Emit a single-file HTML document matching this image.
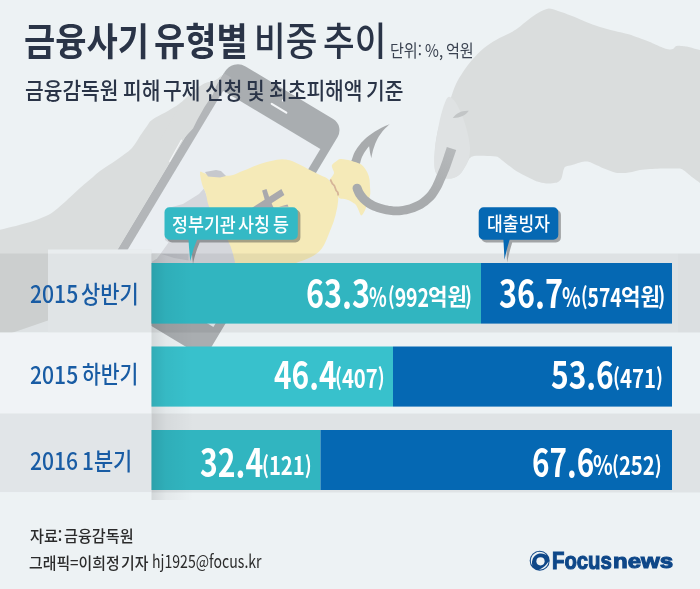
<!DOCTYPE html>
<html lang="ko">
<head>
<meta charset="utf-8">
<title>금융사기 유형별 비중 추이</title>
<style>
html,body{margin:0;padding:0;}
body{width:700px;height:589px;overflow:hidden;background:#edf2f4;font-family:"Liberation Sans","Noto Sans CJK KR",sans-serif;}
#wrap{position:relative;width:700px;height:589px;overflow:hidden;background:#edf2f4;}
#art{position:absolute;left:0;top:0;width:700px;height:589px;}
.t{position:absolute;white-space:nowrap;line-height:1;margin:0;padding:0;transform-origin:0 0;}
</style>
</head>
<body>
<div id="wrap">
<svg id="art" width="700" height="589" viewBox="0 0 700 589">
<defs><linearGradient id="hk" gradientUnits="userSpaceOnUse" x1="430" y1="200" x2="452" y2="148"><stop offset="0" stop-color="#a8abad"/><stop offset="1" stop-color="#b6b9bb"/></linearGradient><linearGradient id="shL" x1="0" x2="1" y1="0" y2="0"><stop offset="0" stop-color="#000" stop-opacity="0.11"/><stop offset="0.35" stop-color="#000" stop-opacity="0.04"/><stop offset="1" stop-color="#000" stop-opacity="0"/></linearGradient></defs>
<rect width="700" height="589" fill="#edf2f4"/>
<path fill="#dadddd" d="M548.6,8.6 L550.9,8.7 L553.1,9.2 L555.4,10.1 L558.0,11.0 L561.1,12.0 L564.4,13.1 L567.9,14.4 L571.4,15.7 L574.8,17.1 L578.1,18.5 L581.5,20.0 L585.0,21.5 L588.7,22.9 L592.5,24.4 L596.3,25.8 L600.0,27.0 L603.6,28.1 L607.0,29.0 L610.5,29.9 L614.0,30.8 L617.7,31.7 L621.6,32.6 L625.3,33.5 L628.6,34.3 L631.3,35.1 L633.5,35.9 L635.7,36.7 L638.0,37.5 L640.6,38.4 L643.4,39.4 L646.1,40.4 L648.6,41.4 L650.7,42.3 L652.5,43.2 L654.3,44.0 L656.0,44.8 L657.8,45.6 L659.6,46.4 L661.3,47.1 L662.9,47.7 L664.3,48.2 L665.6,48.7 L666.8,49.1 L668.0,49.3 L669.3,49.4 L670.6,49.4 L671.8,49.3 L672.9,49.0 L673.7,48.5 L674.3,47.8 L674.9,47.1 L675.5,46.5 L676.2,46.1 L676.9,45.9 L677.7,45.8 L678.6,45.7 L679.7,45.7 L680.9,45.9 L682.2,46.0 L683.5,46.2 L684.6,46.3 L685.6,46.4 L686.9,46.6 L688.6,47.0 L691.0,47.6 L693.9,48.4 L697.0,49.3 L700.0,50.0 L703.2,47.3 L706.7,42.4 L709.8,41.8 L712.0,52.0 L713.1,80.8 L713.5,122.7 L713.1,164.2 L712.0,192.0 L709.7,200.1 L706.4,196.5 L702.9,188.4 L700.0,183.0 L698.1,181.6 L696.6,180.5 L695.3,179.5 L694.0,178.5 L692.6,177.4 L691.2,176.4 L689.9,175.3 L688.6,174.3 L687.4,173.3 L686.2,172.3 L685.1,171.3 L684.0,170.5 L683.1,169.9 L682.3,169.3 L681.4,168.9 L680.0,168.6 L677.9,168.4 L675.4,168.4 L672.6,168.4 L670.0,168.4 L667.5,168.4 L665.0,168.5 L662.5,168.5 L660.0,168.6 L657.5,168.7 L655.0,168.8 L652.5,168.9 L650.0,169.0 L647.5,169.2 L644.9,169.4 L642.4,169.7 L640.0,170.0 L637.8,170.5 L635.8,171.0 L633.8,171.5 L632.0,172.0 L630.3,172.3 L628.7,172.6 L627.2,172.8 L625.7,173.0 L624.2,173.1 L622.8,173.1 L621.4,173.1 L620.0,173.0 L618.6,172.9 L617.3,172.9 L615.8,172.7 L614.0,172.3 L611.8,171.6 L609.2,170.6 L606.6,169.6 L604.0,168.5 L601.4,167.4 L598.7,166.1 L596.1,165.0 L594.0,164.0 L592.5,163.3 L591.4,162.8 L590.4,162.3 L589.5,162.0 L588.5,161.7 L587.7,161.5 L586.8,161.4 L585.7,161.4 L584.5,161.5 L583.1,161.8 L581.6,162.1 L580.0,162.5 L578.1,163.0 L576.0,163.7 L573.9,164.4 L572.0,165.0 L570.3,165.4 L568.6,165.8 L567.2,166.1 L566.0,166.5 L565.3,166.8 L564.9,167.1 L564.6,167.4 L564.3,168.0 L564.0,168.8 L563.6,169.7 L563.3,170.8 L563.0,172.0 L562.7,173.5 L562.3,175.3 L561.9,177.1 L561.4,178.6 L560.7,179.7 L559.8,180.6 L558.9,181.4 L558.0,182.0 L557.1,182.4 L556.3,182.7 L555.3,182.8 L554.0,183.0 L552.3,183.2 L550.3,183.4 L548.2,183.5 L546.0,183.4 L543.8,183.1 L541.6,182.7 L539.3,182.1 L537.0,181.4 L534.6,180.5 L532.1,179.3 L529.5,178.1 L527.0,176.8 L524.5,175.5 L521.9,174.2 L519.4,172.8 L517.0,171.4 L514.7,169.9 L512.4,168.3 L510.2,166.6 L508.0,165.0 L505.8,163.3 L503.7,161.5 L501.7,159.9 L500.0,158.6 L498.9,157.7 L498.2,157.2 L497.5,156.8 L496.0,156.5 L493.5,156.2 L490.4,156.0 L487.0,155.9 L484.0,155.8 L481.2,155.7 L478.5,155.7 L476.0,155.8 L474.0,156.0 L472.5,156.4 L471.5,156.8 L470.7,157.4 L470.0,158.0 L469.4,158.6 L469.0,159.2 L468.6,159.9 L468.0,161.0 L467.2,162.6 L466.2,164.5 L465.1,166.6 L464.0,168.5 L462.9,170.3 L461.8,172.0 L460.5,173.6 L459.0,175.0 L457.2,176.2 L455.2,177.2 L453.1,178.0 L451.0,178.5 L449.0,178.6 L446.9,178.4 L444.9,178.0 L443.0,177.5 L441.3,177.0 L439.7,176.5 L438.2,175.7 L437.0,174.5 L436.1,173.0 L435.3,171.2 L434.8,168.9 L434.5,166.0 L434.4,162.1 L434.4,157.5 L434.7,152.6 L435.0,148.0 L435.5,143.7 L436.1,139.5 L436.8,135.5 L437.5,132.0 L438.2,128.9 L438.9,126.3 L439.7,123.9 L440.5,121.8 L441.3,120.3 L442.1,119.3 L442.9,118.1 L444.0,116.0 L445.3,112.7 L446.8,108.6 L448.4,104.2 L450.0,100.0 L451.5,95.9 L452.9,91.8 L454.4,87.7 L456.0,84.0 L457.6,80.7 L459.3,77.8 L461.1,74.9 L463.0,72.0 L465.0,69.0 L467.2,66.0 L469.5,63.0 L472.0,60.0 L474.8,56.9 L477.8,53.8 L480.9,50.7 L484.0,48.0 L487.0,45.7 L489.9,43.7 L492.9,41.8 L496.0,40.0 L499.5,38.1 L503.2,36.3 L506.9,34.6 L510.0,33.0 L512.4,31.7 L514.2,30.6 L516.0,29.4 L518.0,28.0 L520.4,26.2 L522.9,24.1 L525.5,22.0 L528.0,20.0 L530.5,18.1 L533.0,16.3 L535.5,14.5 L538.0,13.0 L540.6,11.6 L543.3,10.2 L546.0,9.2 Z"/>
<path fill="#dfe2e3" d="M446.0,100.0 L444.8,102.9 L443.5,106.6 L442.2,110.8 L441.0,115.0 L440.0,119.1 L439.1,123.4 L438.3,127.8 L437.5,132.0 L436.8,136.0 L436.1,139.9 L435.5,143.9 L435.0,148.0 L434.7,152.6 L434.4,157.5 L434.4,162.1 L434.5,166.0 L434.8,168.9 L435.3,171.2 L436.1,173.0 L437.0,174.5 L438.2,175.7 L439.7,176.5 L441.3,177.0 L443.0,177.5 L444.9,178.0 L446.9,178.4 L449.0,178.6 L451.0,178.5 L453.1,178.0 L455.2,177.2 L457.2,176.2 L459.0,175.0 L460.5,173.6 L461.8,172.0 L462.9,170.3 L464.0,168.5 L465.1,166.8 L466.2,165.0 L467.2,163.1 L468.0,161.0 L468.7,158.6 L469.4,156.0 L469.8,153.1 L470.0,150.0 L469.9,146.6 L469.4,142.9 L468.8,139.0 L468.0,135.0 L467.0,130.8 L465.8,126.5 L464.5,122.2 L463.0,118.0 L461.4,113.9 L459.6,109.8 L457.7,106.1 L456.0,103.0 L454.4,100.7 L452.8,98.9 L451.3,97.7 L450.0,97.0 L448.9,96.8 L447.9,97.2 L447.0,98.2 Z"/>
<path fill="#c2c5c6" d="M452.8,118 C456,113 462.5,110.2 468.8,110.8 C466,115.2 459.5,118.2 452.8,118 Z"/>
<path fill="#dadddd" d="M226.0,74.0 L224.7,74.4 L223.4,74.9 L222.0,75.5 L220.5,76.6 L219.0,77.8 L217.5,79.0 L216.1,79.9 L214.6,80.7 L212.9,81.4 L210.7,81.9 L208.2,82.2 L205.7,82.9 L203.4,84.0 L201.1,85.4 L198.6,87.1 L195.7,89.3 L192.7,91.9 L190.0,94.3 L187.8,96.3 L185.9,98.1 L184.0,99.8 L182.2,101.4 L180.5,102.8 L178.6,104.3 L176.2,105.9 L173.5,107.5 L171.0,109.0 L168.7,110.4 L166.5,111.7 L164.3,112.9 L162.1,114.1 L159.9,115.2 L158.0,116.2 L156.5,117.0 L155.2,117.8 L154.0,118.6 L152.6,119.5 L151.3,120.5 L150.0,121.6 L149.1,122.8 L148.3,124.1 L147.0,126.0 L145.0,128.8 L142.6,132.3 L140.0,136.0 L137.6,139.9 L135.0,144.1 L132.0,148.0 L128.6,151.2 L124.7,154.1 L120.0,157.5 L113.6,161.9 L106.2,166.7 L100.0,171.0 L95.9,174.2 L93.0,176.9 L90.0,179.5 L86.7,182.3 L83.4,185.0 L80.0,188.0 L76.2,191.5 L72.2,195.2 L68.6,198.6 L65.5,201.5 L62.6,204.0 L60.0,206.3 L57.5,208.4 L55.3,210.3 L53.0,212.0 L50.9,213.4 L48.7,214.7 L46.0,216.0 L42.4,217.6 L38.3,219.2 L34.0,220.8 L29.4,222.2 L24.6,223.6 L20.0,224.8 L15.9,225.9 L12.1,226.8 L8.0,227.8 L3.5,228.9 L-1.3,229.9 L-6.0,231.0 L-6,339 L48,320.6 L130,292 L222,140 Z"/>
<g transform="translate(232.7,58.7) rotate(31)"><path d="M15,0 H117.2 A13,13 0 0 1 130.2,13 V265 A6,6 0 0 1 124.2,271 H6 A6,6 0 0 1 0,265 V15 A15,15 0 0 1 15,0 Z" fill="#a9adb0"/><path d="M0,17 H8.3 V271 H6 A6,6 0 0 1 0,265 Z" fill="#b3b6b9"/><rect x="8.3" y="32.3" width="113.4" height="207.7" fill="#eaeef2"/><rect x="55.6" y="17.5" width="19.2" height="2.2" rx="1.1" fill="#f4f6f8"/><circle cx="64.7" cy="10" r="1.2" fill="#f4f6f8"/></g>
<path fill="#dadddd" d="M205.7,82.9 L212.9,81.4 L217.5,79 L222,75.5 L217.3,83 L213,94.3 L204.5,107.1 L197.2,120 L193,128.6 L184.3,137.9 L181.2,141.3 L176,146 L160,140 L180,105 L195,90 Z"/>
<path d="M181.7,139.8 L169.4,161.8" stroke="#f6f8fa" stroke-width="1.1" fill="none"/>
<path fill="#d5d7dc" d="M204,188.5 L199,194 L183,204 L170,207.5 L165,210 L165,240 L168.6,242.6 L160.7,253.6 L151.5,253.6 L151.5,264 L240,264 L232,240 L210,205 Z"/>
<path fill="#edf2f4" d="M151.5,253.6 L160.7,253.6 L157,258.5 L151.5,262 Z"/>
<path fill="#c4c6cc" d="M160.7,253.7 L188.5,253.7 L188.5,260.5 L174,258 Z"/>
<path fill="#a8abad" d="M350.5,162.0 L350.8,161.5 L351.1,161.0 L351.5,160.4 L351.9,159.5 L352.3,158.2 L352.8,156.7 L353.4,155.0 L354.1,153.3 L355.0,151.6 L356.1,149.8 L357.2,148.0 L358.5,146.2 L359.9,144.4 L361.4,142.6 L363.0,140.9 L364.7,139.2 L366.6,137.6 L368.5,136.0 L370.6,134.5 L372.7,133.0 L374.9,131.6 L377.1,130.2 L379.3,128.9 L381.5,127.7 L383.6,126.7 L385.7,125.8 L387.8,124.9 L389.9,124.0 L389.9,124.0 L388.4,125.3 L387.0,126.7 L385.5,128.0 L384.1,129.5 L382.7,131.1 L381.3,132.9 L380.0,134.7 L378.8,136.5 L377.8,138.2 L376.9,140.0 L376.1,141.8 L375.3,143.6 L374.6,145.5 L373.9,147.6 L373.2,149.6 L372.7,151.5 L372.3,153.3 L371.9,154.9 L371.6,156.6 L371.3,158.2 L370.0,152.4 L369.1,146.2 L368.2,147.3 L367.4,148.3 L366.5,149.5 L365.6,150.7 L364.7,152.1 L363.8,153.6 L362.9,155.2 L362.1,156.8 L361.4,158.6 L360.8,160.5 L360.3,162.4 L359.9,163.9 L359.6,165.0 L359.4,165.7 L359.2,166.3 L359.0,167.0 Z"/>
<path fill="#f5eab8" d="M200.0,172.0 L200.9,171.5 L202.6,172.5 L205.0,173.5 L208.3,174.2 L212.2,174.9 L216.0,175.5 L219.5,175.8 L222.9,175.8 L226.0,175.8 L228.6,175.7 L230.8,175.5 L233.0,175.0 L235.2,174.2 L237.4,173.2 L240.0,172.0 L243.1,170.7 L246.6,169.4 L250.0,168.0 L253.3,166.6 L256.7,165.2 L260.0,164.0 L263.3,162.9 L266.7,162.0 L270.0,161.2 L273.5,160.5 L277.0,159.8 L280.0,159.4 L282.3,159.3 L284.1,159.4 L286.0,159.6 L287.9,159.9 L289.8,160.3 L292.0,161.0 L294.8,162.2 L297.9,163.7 L301.0,165.3 L304.0,166.8 L307.0,168.4 L310.0,170.0 L313.0,171.5 L316.0,173.0 L319.0,174.5 L322.1,175.9 L325.3,177.2 L328.0,179.0 L330.1,181.4 L331.9,184.1 L333.5,187.0 L335.3,189.9 L336.9,193.0 L338.0,196.0 L338.3,199.0 L338.0,202.1 L337.6,205.0 L337.2,207.7 L336.6,210.3 L336.0,213.0 L335.3,215.9 L334.4,219.0 L333.5,222.0 L332.4,225.1 L331.2,228.1 L330.0,231.0 L329.0,233.6 L328.0,236.1 L327.0,238.5 L326.0,240.8 L325.0,243.0 L324.0,245.0 L322.9,246.8 L321.8,248.5 L320.5,250.0 L319.2,251.4 L317.7,252.7 L316.0,254.0 L313.9,255.4 L311.6,256.7 L309.0,258.0 L306.2,259.2 L303.1,260.4 L300.0,261.5 L296.7,262.7 L293.4,263.9 L290.0,265.0 L287.9,266.1 L285.8,267.2 L280.0,268.0 L266.6,268.4 L249.5,268.6 L237.0,268.0 L233.3,266.7 L234.2,264.7 L235.0,262.0 L234.1,258.4 L233.0,254.1 L231.8,250.0 L230.6,246.6 L229.3,243.4 L227.6,239.7 L225.3,235.2 L222.5,230.3 L219.5,225.0 L215.9,219.1 L212.1,212.8 L209.1,207.0 L207.6,202.2 L206.8,197.9 L206.0,194.0 L204.7,190.5 L203.2,187.4 L202.0,184.0 L200.9,179.6 L200.1,175.1 Z"/>
<path fill="#f5eab8" d="M332.0,165.0 L333.0,163.8 L334.5,162.6 L336.0,161.5 L337.3,160.5 L338.6,159.6 L340.0,159.0 L341.6,159.0 L343.3,159.3 L345.0,159.6 L346.6,159.8 L348.3,160.1 L350.0,160.5 L352.0,161.0 L354.0,161.7 L356.0,162.3 L357.8,162.9 L359.4,163.5 L361.0,164.3 L362.4,165.5 L363.8,166.9 L365.0,168.5 L366.1,170.2 L367.1,172.1 L368.0,174.0 L368.7,175.9 L369.2,177.9 L369.6,180.0 L369.8,182.3 L369.9,184.7 L370.0,187.0 L370.2,189.2 L370.3,191.4 L370.3,193.5 L370.0,195.4 L369.5,197.2 L369.0,199.0 L368.4,200.7 L367.7,202.4 L367.0,204.0 L366.5,205.7 L366.0,207.4 L365.5,209.0 L364.9,210.5 L364.2,211.8 L363.5,213.0 L362.7,214.2 L361.9,215.3 L361.0,215.5 L360.2,214.2 L359.3,212.1 L358.5,210.0 L357.7,208.2 L356.9,206.5 L356.0,205.0 L354.8,203.8 L353.4,202.9 L352.0,202.0 L350.7,201.2 L349.4,200.6 L348.0,200.0 L346.4,199.5 L344.6,199.1 L343.0,198.8 L341.5,198.7 L340.1,198.6 L339.0,198.0 L338.2,196.7 L337.7,194.9 L337.0,193.0 L335.9,190.9 L334.7,188.7 L333.5,186.5 L332.1,184.2 L330.7,182.0 L330.0,180.0 L330.4,178.5 L331.5,177.2 L332.5,176.0 L333.2,174.8 L333.8,173.7 L334.0,172.5 L333.7,171.2 L333.0,169.8 L332.5,168.5 L332.1,167.3 L331.8,166.1 Z"/>
<path d="M330.3,179.5 L332.3,183.6 L334.3,185.6 L335.3,188.3 L336.1,190.5 L337.8,192.3 L338.3,195.5" stroke="#d6b597" stroke-width="1.8" fill="none" stroke-linejoin="round"/>
<g fill="#a9a9ad"><path d="M262.1,190.4 L266.5,188.9 L271.5,204 L266.5,206 Z"/><path d="M281.4,188.9 L284.4,195 L271.5,203.2 L274,208.5 L250,212 L252.5,207.5 Z"/><path d="M279,206.8 L287.5,204.6 L288.5,206.8 Z"/></g>
<path fill="#c6c8cd" d="M205,172 L216,170 L221,171 L226,176 L220,177.6 L208,176.4 Z"/>
<path fill="url(#hk)" d="M352.9,190.1 L353.3,191.2 L353.8,192.3 L354.3,193.5 L355.0,195.0 L355.8,196.4 L356.8,197.8 L357.8,199.2 L359.0,200.6 L360.3,202.0 L361.7,203.3 L363.1,204.6 L364.7,205.8 L366.3,206.9 L368.0,208.0 L369.7,208.9 L371.3,209.8 L373.0,210.5 L374.6,211.1 L376.3,211.7 L378.0,212.2 L379.8,212.8 L381.8,213.3 L383.8,213.8 L385.8,214.2 L387.8,214.5 L389.5,214.8 L391.3,215.1 L393.1,215.2 L395.1,215.3 L397.2,215.3 L399.4,215.2 L401.7,215.0 L404.2,214.6 L406.8,214.2 L409.4,213.5 L412.0,212.8 L414.7,211.9 L417.5,210.8 L420.3,209.6 L422.9,208.2 L425.3,206.6 L427.6,204.9 L429.8,203.1 L431.8,201.3 L433.7,199.4 L435.4,197.4 L436.9,195.3 L438.2,193.3 L439.4,191.3 L440.6,189.3 L441.7,187.2 L442.7,185.1 L443.6,183.1 L444.4,181.1 L445.3,179.2 L446.1,177.2 L447.0,175.3 L447.8,173.3 L448.7,171.3 L449.5,169.2 L450.3,167.1 L451.0,165.1 L451.7,163.0 L452.4,161.0 L453.1,159.1 L453.7,157.2 L454.4,155.3 L455.0,153.5 L455.6,151.7 L456.2,149.9 L446.8,146.9 L446.3,148.7 L445.7,150.5 L445.1,152.3 L444.5,154.1 L443.9,155.9 L443.2,157.9 L442.6,159.9 L441.9,161.9 L441.2,163.8 L440.5,165.8 L439.8,167.7 L439.0,169.6 L438.2,171.5 L437.4,173.5 L436.5,175.4 L435.7,177.4 L434.9,179.4 L434.1,181.3 L433.3,183.1 L432.4,184.9 L431.4,186.7 L430.4,188.4 L429.3,190.1 L428.2,191.7 L426.9,193.2 L425.4,194.8 L423.8,196.3 L422.0,197.8 L420.2,199.2 L418.3,200.4 L416.3,201.5 L414.0,202.6 L411.7,203.5 L409.3,204.4 L407.0,205.1 L404.9,205.6 L402.8,205.9 L400.8,206.2 L398.7,206.4 L396.8,206.5 L395.2,206.5 L393.7,206.5 L392.3,206.3 L390.9,206.1 L389.2,205.9 L387.5,205.6 L385.8,205.2 L384.0,204.7 L382.2,204.3 L380.6,203.8 L379.1,203.3 L377.7,202.8 L376.4,202.3 L375.2,201.7 L373.9,201.1 L372.7,200.3 L371.3,199.5 L370.0,198.5 L368.8,197.6 L367.7,196.7 L366.8,195.7 L365.9,194.7 L365.0,193.6 L364.2,192.6 L363.6,191.6 L363.1,190.7 L362.7,189.9 L362.3,188.9 L361.8,187.7 L361.3,186.5 L360.3,185.0 L358.8,184.0 L357.1,183.7 L355.3,184.1 L353.8,185.1 L352.8,186.6 L352.5,188.3 Z"/>
<rect x="0" y="253.5" width="700" height="79" fill="#000" fill-opacity="0.062"/>
<rect x="151.5" y="413.5" width="548.5" height="79" fill="#dfe3e5"/>
<rect x="678" y="253.5" width="22" height="79" fill="#000" fill-opacity="0.012"/>
<rect x="48" y="249.6" width="103.5" height="83" fill="#e0e4e6"/>
<rect x="48" y="249.6" width="103.5" height="4" fill="#e9edef"/>
<rect x="0" y="332.5" width="151.5" height="81" fill="#f0f3f6"/>
<rect x="0" y="413.5" width="151.5" height="78.7" fill="#e1e5e8"/>
<rect x="0" y="492.2" width="151.5" height="96.8" fill="#edf2f4"/>
<rect x="151.5" y="253.5" width="42" height="246.5" fill="url(#shL)"/>
<rect x="151.5" y="263" width="329.5" height="60.6" fill="#31b5c0"/>
<rect x="481" y="263" width="191" height="60.6" fill="#0568b3"/>
<rect x="151.5" y="263" width="40" height="60.6" fill="url(#shL)"/>
<rect x="151.5" y="346.5" width="241.5" height="60.1" fill="#38c1cc"/>
<rect x="393" y="346.5" width="279" height="60.1" fill="#0568b3"/>
<rect x="151.5" y="346.5" width="40" height="60.1" fill="url(#shL)"/>
<rect x="151.5" y="430" width="169.0" height="60" fill="#31b5c0"/>
<rect x="320.5" y="430" width="351.5" height="60" fill="#0568b3"/>
<rect x="151.5" y="430" width="40" height="60" fill="url(#shL)"/>
<path fill="#3a3a3a" fill-opacity="0.42" transform="translate(2.6,2.6)" d="M169.5,207.2 H292.8 a5,5 0 0 1 5,5 V234.8 a5,5 0 0 1 -5,5 H197.1 Q192.7,249.6 190.4,261.3 Q189.1,250.6 188.5,239.8 H169.5 a5,5 0 0 1 -5,-5 V212.2 a5,5 0 0 1 5,-5 Z"/>
<path fill="#34b9c5" d="M169.5,207.2 H292.8 a5,5 0 0 1 5,5 V234.8 a5,5 0 0 1 -5,5 H197.1 Q192.7,249.6 190.4,261.3 Q189.1,250.6 188.5,239.8 H169.5 a5,5 0 0 1 -5,-5 V212.2 a5,5 0 0 1 5,-5 Z"/>
<path fill="#3a3a3a" fill-opacity="0.42" transform="translate(2.6,2.6)" d="M483.7,207.2 H553.3 a5,5 0 0 1 5,5 V234.8 a5,5 0 0 1 -5,5 H509.6 Q506.8,248.8 504.5,259.8 Q504.0,249.8 503.4,239.8 H483.7 a5,5 0 0 1 -5,-5 V212.2 a5,5 0 0 1 5,-5 Z"/>
<path fill="#0568b3" d="M483.7,207.2 H553.3 a5,5 0 0 1 5,5 V234.8 a5,5 0 0 1 -5,5 H509.6 Q506.8,248.8 504.5,259.8 Q504.0,249.8 503.4,239.8 H483.7 a5,5 0 0 1 -5,-5 V212.2 a5,5 0 0 1 5,-5 Z"/>
<g id="logomark"><circle cx="539.7" cy="560.7" r="10" fill="#0e4788"/><circle cx="540.5" cy="561.3" r="4.1" fill="#edf2f4"/><path d="M532.4,565.8 L531.4,563.9 L530.9,561.9 L530.8,559.8 L531.3,557.7 L532.2,555.8 L533.6,554.2 L535.3,553.0 L537.2,552.1 L539.3,551.8 L541.4,552.0 L543.4,552.6 L545.2,553.7 L546.7,555.2 L544.8,554.2 L543.0,553.7 L541.1,553.5 L539.4,553.6 L537.8,554.1 L536.3,554.8 L535.0,555.7 L533.9,556.9 L533.0,558.3 L532.4,559.9 L532.0,561.7 L532.0,563.7 Z" fill="#edf2f4"/><path d="M548.6,561.5 L548.3,563.0 L547.8,564.5 L547.0,565.8 L546.0,567.0 L544.8,568.0 L543.5,568.8 L542.0,569.3 L540.5,569.6 L538.9,569.6 L540.4,568.9 L541.7,568.2 L542.9,567.5 L543.9,566.7 L544.9,565.9 L545.8,565.0 L546.7,564.0 L547.6,562.8 Z" fill="#edf2f4"/></g>
</svg>
<div class="t" id="title1_0" style="left:23.74px;top:19.83px;font-family:'Noto Sans CJK KR','NanumGothic',sans-serif;font-weight:700;font-size:37.78px;color:#2a3447;transform:scale(0.8993,1.0000);">금융사기</div>
<div class="t" id="title1_1" style="left:153.50px;top:19.83px;font-family:'Noto Sans CJK KR','NanumGothic',sans-serif;font-weight:700;font-size:37.78px;color:#2a3447;transform:scale(0.8993,1.0000);">유형별</div>
<div class="t" id="title2_0" style="left:253.90px;top:19.90px;font-family:'Noto Sans CJK KR','NanumGothic',sans-serif;font-weight:500;font-size:38.28px;color:#2a3447;transform:scale(0.8994,1.0000);">비중</div>
<div class="t" id="title2_1" style="left:322.61px;top:19.90px;font-family:'Noto Sans CJK KR','NanumGothic',sans-serif;font-weight:500;font-size:38.28px;color:#2a3447;transform:scale(0.8994,1.0000);">추이</div>
<div class="t" id="unit_0" style="left:389.98px;top:41.52px;font-family:'Noto Sans CJK KR','NanumGothic',sans-serif;font-weight:400;font-size:16.70px;color:#3a4250;transform:scale(0.9032,1.0000);">단위:</div>
<div class="t" id="unit_1" style="left:424.60px;top:41.52px;font-family:'Noto Sans CJK KR','NanumGothic',sans-serif;font-weight:400;font-size:16.70px;color:#3a4250;transform:scale(0.9032,1.0000);">%,</div>
<div class="t" id="unit_2" style="left:445.76px;top:41.52px;font-family:'Noto Sans CJK KR','NanumGothic',sans-serif;font-weight:400;font-size:16.70px;color:#3a4250;transform:scale(0.9032,1.0000);">억원</div>
<div class="t" id="sub_0" style="left:24.55px;top:77.56px;font-family:'Noto Sans CJK KR','NanumGothic',sans-serif;font-weight:500;font-size:23.27px;color:#2a3447;transform:scale(0.8737,1.0000);">금융감독원</div>
<div class="t" id="sub_1" style="left:122.95px;top:77.56px;font-family:'Noto Sans CJK KR','NanumGothic',sans-serif;font-weight:500;font-size:23.27px;color:#2a3447;transform:scale(0.8737,1.0000);">피해</div>
<div class="t" id="sub_2" style="left:163.05px;top:77.56px;font-family:'Noto Sans CJK KR','NanumGothic',sans-serif;font-weight:500;font-size:23.27px;color:#2a3447;transform:scale(0.8737,1.0000);">구제</div>
<div class="t" id="sub_3" style="left:205.30px;top:77.56px;font-family:'Noto Sans CJK KR','NanumGothic',sans-serif;font-weight:500;font-size:23.27px;color:#2a3447;transform:scale(0.8737,1.0000);">신청</div>
<div class="t" id="sub_4" style="left:245.54px;top:77.56px;font-family:'Noto Sans CJK KR','NanumGothic',sans-serif;font-weight:500;font-size:23.27px;color:#2a3447;transform:scale(0.8737,1.0000);">및</div>
<div class="t" id="sub_5" style="left:268.74px;top:77.56px;font-family:'Noto Sans CJK KR','NanumGothic',sans-serif;font-weight:500;font-size:23.27px;color:#2a3447;transform:scale(0.8737,1.0000);">최초피해액</div>
<div class="t" id="sub_6" style="left:365.52px;top:77.56px;font-family:'Noto Sans CJK KR','NanumGothic',sans-serif;font-weight:500;font-size:23.27px;color:#2a3447;transform:scale(0.8737,1.0000);">기준</div>
<div class="t" id="co1_0" style="left:171.50px;top:214.21px;font-family:'Noto Sans CJK KR','NanumGothic',sans-serif;font-weight:500;font-size:19.86px;color:#fff;transform:scale(0.8724,1.0000);">정부기관</div>
<div class="t" id="co1_1" style="left:237.71px;top:214.21px;font-family:'Noto Sans CJK KR','NanumGothic',sans-serif;font-weight:500;font-size:19.86px;color:#fff;transform:scale(0.8724,1.0000);">사칭</div>
<div class="t" id="co1_2" style="left:272.74px;top:214.21px;font-family:'Noto Sans CJK KR','NanumGothic',sans-serif;font-weight:500;font-size:19.86px;color:#fff;transform:scale(0.8724,1.0000);">등</div>
<div class="t" id="f1_0" style="left:29.66px;top:526.75px;font-family:'Noto Sans CJK KR','NanumGothic',sans-serif;font-weight:500;font-size:16.24px;color:#2b2b2b;transform:scale(0.9331,1.0000);">자료:</div>
<div class="t" id="f1_1" style="left:64.04px;top:526.75px;font-family:'Noto Sans CJK KR','NanumGothic',sans-serif;font-weight:500;font-size:16.24px;color:#2b2b2b;transform:scale(0.9331,1.0000);">금융감독원</div>
<div class="t" id="f2k_0" style="left:28.70px;top:553.75px;font-family:'Noto Sans CJK KR','NanumGothic',sans-serif;font-weight:500;font-size:16.18px;color:#2b2b2b;transform:scale(0.9200,1.0000);">그래픽=이희정</div>
<div class="t" id="f2k_1" style="left:121.39px;top:553.75px;font-family:'Noto Sans CJK KR','NanumGothic',sans-serif;font-weight:500;font-size:16.18px;color:#2b2b2b;transform:scale(0.9200,1.0000);">기자</div>
<div class="t" id="co2" style="left:486.70px;top:213.39px;font-family:'Noto Sans CJK KR','NanumGothic',sans-serif;font-weight:500;font-size:19.52px;color:#fff;transform:scale(0.8757,1.0000);">대출빙자</div>
<div class="t" id="l1n" style="left:29.60px;top:281.04px;font-family:'Noto Sans CJK KR','Liberation Sans',sans-serif;font-weight:500;font-size:24.37px;color:#195ca4;transform:scale(0.8684,1.0000);">2015</div>
<div class="t" id="l1k" style="left:80.90px;top:281.66px;font-family:'Noto Sans CJK KR','NanumGothic',sans-serif;font-weight:500;font-size:23.68px;color:#195ca4;transform:scale(0.8829,1.0000);">상반기</div>
<div class="t" id="l2n" style="left:29.60px;top:361.54px;font-family:'Noto Sans CJK KR','Liberation Sans',sans-serif;font-weight:500;font-size:24.37px;color:#195ca4;transform:scale(0.8684,1.0000);">2015</div>
<div class="t" id="l2k" style="left:82.16px;top:362.06px;font-family:'Noto Sans CJK KR','NanumGothic',sans-serif;font-weight:500;font-size:23.68px;color:#195ca4;transform:scale(0.8629,1.0000);">하반기</div>
<div class="t" id="l3n" style="left:29.60px;top:447.64px;font-family:'Noto Sans CJK KR','Liberation Sans',sans-serif;font-weight:500;font-size:24.37px;color:#195ca4;transform:scale(0.8652,1.0000);">2016</div>
<div class="t" id="l3k" style="left:81.84px;top:448.04px;font-family:'Noto Sans CJK KR','NanumGothic',sans-serif;font-weight:500;font-size:23.90px;color:#195ca4;transform:scale(0.8728,1.0000);">1분기</div>
<div class="t" id="v1a" style="left:306.46px;top:271.97px;font-family:'Noto Sans CJK KR','Liberation Sans',sans-serif;font-weight:700;font-size:38.62px;color:#fff;transform:scale(0.7913,1.0000);">63.3</div>
<div class="t" id="v1ap" style="left:369.09px;top:282.84px;font-family:'Noto Sans CJK KR','Liberation Sans',sans-serif;font-weight:700;font-size:26.18px;color:#fff;transform:scale(0.7038,1.0000);">%</div>
<div class="t" id="v1an" style="left:387.87px;top:282.89px;font-family:'Noto Sans CJK KR','Liberation Sans',sans-serif;font-weight:700;font-size:25.81px;color:#fff;transform:scale(0.7547,1.0000);"><span style="font-size:.9em;position:relative;top:-.03em">(</span>992</div>
<div class="t" id="v1ak" style="left:428.26px;top:284.12px;font-family:'Noto Sans CJK KR','NanumGothic',sans-serif;font-weight:700;font-size:23.26px;color:#fff;transform:scale(0.9120,1.0000);">억원</div>
<div class="t" id="v1ae" style="left:465.27px;top:282.89px;font-family:'Noto Sans CJK KR','Liberation Sans',sans-serif;font-weight:700;font-size:25.81px;color:#fff;transform:scale(0.7875,1.0000);"><span style="font-size:.9em;position:relative;top:-.03em">)</span></div>
<div class="t" id="v1b" style="left:499.36px;top:271.97px;font-family:'Noto Sans CJK KR','Liberation Sans',sans-serif;font-weight:700;font-size:38.62px;color:#fff;transform:scale(0.7896,1.0000);">36.7</div>
<div class="t" id="v1bp" style="left:561.98px;top:282.84px;font-family:'Noto Sans CJK KR','Liberation Sans',sans-serif;font-weight:700;font-size:26.18px;color:#fff;transform:scale(0.7376,1.0000);">%</div>
<div class="t" id="v1bn" style="left:580.89px;top:282.89px;font-family:'Noto Sans CJK KR','Liberation Sans',sans-serif;font-weight:700;font-size:25.81px;color:#fff;transform:scale(0.7448,1.0000);"><span style="font-size:.9em;position:relative;top:-.03em">(</span>574</div>
<div class="t" id="v1bk" style="left:621.26px;top:284.12px;font-family:'Noto Sans CJK KR','NanumGothic',sans-serif;font-weight:700;font-size:23.26px;color:#fff;transform:scale(0.9120,1.0000);">억원</div>
<div class="t" id="v1be" style="left:658.22px;top:282.89px;font-family:'Noto Sans CJK KR','Liberation Sans',sans-serif;font-weight:700;font-size:25.81px;color:#fff;transform:scale(0.8257,1.0000);"><span style="font-size:.9em;position:relative;top:-.03em">)</span></div>
<div class="t" id="v2a" style="left:274.18px;top:353.82px;font-family:'Noto Sans CJK KR','Liberation Sans',sans-serif;font-weight:700;font-size:38.35px;color:#fff;transform:scale(0.7781,1.0000);">46.4</div>
<div class="t" id="v2an" style="left:335.31px;top:363.96px;font-family:'Noto Sans CJK KR','Liberation Sans',sans-serif;font-weight:700;font-size:25.94px;color:#fff;transform:scale(0.7794,1.0000);"><span style="font-size:.9em;position:relative;top:-.03em">(</span>407<span style="font-size:.9em;position:relative;top:-.03em">)</span></div>
<div class="t" id="v2b" style="left:551.28px;top:353.82px;font-family:'Noto Sans CJK KR','Liberation Sans',sans-serif;font-weight:700;font-size:38.35px;color:#fff;transform:scale(0.7816,1.0000);">53.6</div>
<div class="t" id="v2bn" style="left:612.50px;top:363.96px;font-family:'Noto Sans CJK KR','Liberation Sans',sans-serif;font-weight:700;font-size:25.94px;color:#fff;transform:scale(0.7837,1.0000);"><span style="font-size:.9em;position:relative;top:-.03em">(</span>471<span style="font-size:.9em;position:relative;top:-.03em">)</span></div>
<div class="t" id="v3a" style="left:200.27px;top:440.57px;font-family:'Noto Sans CJK KR','Liberation Sans',sans-serif;font-weight:700;font-size:38.62px;color:#fff;transform:scale(0.7804,1.0000);">32.4</div>
<div class="t" id="v3an" style="left:262.02px;top:451.49px;font-family:'Noto Sans CJK KR','Liberation Sans',sans-serif;font-weight:700;font-size:25.81px;color:#fff;transform:scale(0.7861,1.0000);"><span style="font-size:.9em;position:relative;top:-.03em">(</span>121<span style="font-size:.9em;position:relative;top:-.03em">)</span></div>
<div class="t" id="v3b" style="left:532.09px;top:440.57px;font-family:'Noto Sans CJK KR','Liberation Sans',sans-serif;font-weight:700;font-size:38.62px;color:#fff;transform:scale(0.7677,1.0000);">67.6</div>
<div class="t" id="v3bp" style="left:593.34px;top:451.44px;font-family:'Noto Sans CJK KR','Liberation Sans',sans-serif;font-weight:700;font-size:26.18px;color:#fff;transform:scale(0.7836,1.0000);">%</div>
<div class="t" id="v3bn" style="left:612.42px;top:451.49px;font-family:'Noto Sans CJK KR','Liberation Sans',sans-serif;font-weight:700;font-size:25.81px;color:#fff;transform:scale(0.7861,1.0000);"><span style="font-size:.9em;position:relative;top:-.03em">(</span>252<span style="font-size:.9em;position:relative;top:-.03em">)</span></div>
<div class="t" id="f2e" style="left:152.09px;top:551.94px;font-family:'Noto Sans CJK KR','Liberation Sans',sans-serif;font-weight:400;font-size:17.75px;color:#2b2b2b;transform:scale(0.7943,1.0000);">hj1925@focus.kr</div>
<div class="t" id="lg1" style="left:551.96px;top:548.58px;font-family:'Liberation Sans','Noto Sans CJK KR',sans-serif;font-weight:700;font-size:23.87px;color:#0e4788;transform:scale(0.8516,1.0000);-webkit-text-stroke:1.1px #0e4788;">Focus</div>
<div class="t" id="lg2" style="left:613.10px;top:551.24px;font-family:'Liberation Sans','Noto Sans CJK KR',sans-serif;font-weight:700;font-size:20.87px;color:#0e4788;transform:scale(1.1520,1.0000);-webkit-text-stroke:1.1px #0e4788;">news</div>
</div>
</body>
</html>
